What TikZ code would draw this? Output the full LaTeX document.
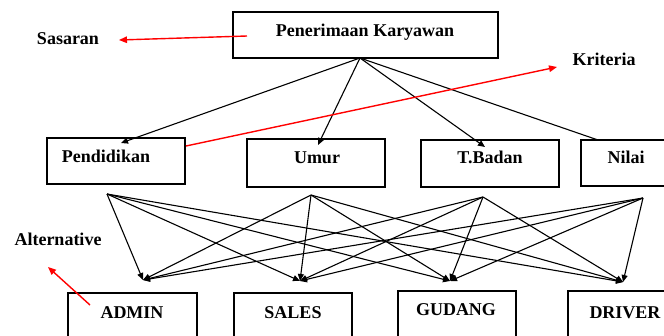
\documentclass[tikz,border=0pt]{standalone}
\usepackage{fontspec}
\setmainfont{Liberation Serif}
\usetikzlibrary{arrows.meta}
\tikzset{
  box/.style={draw, line width=1.5pt, inner sep=0pt},
  lbl/.style={font=\bfseries\fontsize{18}{20}\selectfont, anchor=base, inner sep=0pt},
  edge/.style={line width=1.1pt, -{Triangle[length=7pt,width=6pt]}},
  plain/.style={line width=1.1pt},
  redarrow/.style={draw=red, line width=1.4pt, -{Triangle[length=8pt,width=6.5pt]}}
}
\begin{document}
\begin{tikzpicture}[x=1pt,y=-1pt]
\useasboundingbox (0,0) rectangle (664,335);
\clip (0,0) rectangle (664,335);
% boxes
\node[box, minimum width=265pt, minimum height=46pt] (top) at (365.5,35) {};
\node[box, minimum width=138pt, minimum height=46pt] (pend) at (116,161) {};
\node[box, minimum width=138pt, minimum height=48pt] (umur) at (316,163) {};
\node[box, minimum width=138pt, minimum height=47pt] (tb) at (490,163.5) {};
\node[box, minimum width=100pt, minimum height=46pt] (nilai) at (631,163) {};
\node[box, minimum width=129pt, minimum height=60pt] (admin) at (132.5,323) {};
\node[box, minimum width=118pt, minimum height=60pt] (sales) at (293,323) {};
\node[box, minimum width=118pt, minimum height=62pt] (gudang) at (457,322) {};
\node[box, minimum width=110pt, minimum height=62pt] (driver) at (623,322) {};
% texts
\node[lbl] (ttop) at (365,36) {Penerimaan Karyawan};
\node[lbl] (tpend) at (106,162) {Pendidikan};
\node[lbl] (tumur) at (317,163) {Umur};
\node[lbl] (ttb) at (490,163) {T.Badan};
\node[lbl] (tnilai) at (626,163) {Nilai};
\node[lbl] (tadmin) at (132,318) {ADMIN};
\node[lbl] (tsales) at (293,318) {SALES};
\node[lbl] (tgudang) at (456,315) {GUDANG};
\node[lbl] (tdriver) at (625,318) {DRIVER};
\node[lbl] (sasaran) at (68,44) {Sasaran};
\node[lbl] (kriteria) at (604,65) {Kriteria};
\node[lbl] (alt) at (58,245) {Alternative};
% connection points
\coordinate (topOut) at (360,58);
\coordinate (pendIn) at (121,143);
\coordinate (umurIn) at (318,145);
\coordinate (tbIn) at (485,147);
\coordinate (nilaiIn) at (598,140);
\coordinate (pendOut) at (107,194);
\coordinate (umurOut) at (311,195);
\coordinate (tbOut) at (483,197);
\coordinate (nilaiOut) at (643,198);
\coordinate (adminIn) at (143,280);
\coordinate (salesIn) at (300,281);
\coordinate (gudangIn) at (450,281);
\coordinate (driverIn) at (623,282);
% top to criteria
\draw[edge] (topOut) -- (pendIn);
\draw[edge] (topOut) -- (umurIn);
\draw[edge] (topOut) -- (tbIn);
\draw[plain] (topOut) -- (nilaiIn);
% criteria to alternatives
\foreach \s in {pendOut,umurOut,tbOut,nilaiOut}{
  \foreach \t in {adminIn,salesIn,gudangIn,driverIn}{
    \draw[edge] (\s) -- (\t);
  }
}
% red arrows
\coordinate (sasStart) at (247,36);
\coordinate (sasEnd) at (119,40);
\draw[redarrow] (sasStart) -- (sasEnd);
\coordinate (kriStart) at (186,146);
\coordinate (kriEnd) at (557,67);
\draw[redarrow] (kriStart) -- (kriEnd);
\coordinate (altStart) at (90,305);
\coordinate (altEnd) at (48,267);
\draw[redarrow] (altStart) -- (altEnd);
\end{tikzpicture}
\end{document}
